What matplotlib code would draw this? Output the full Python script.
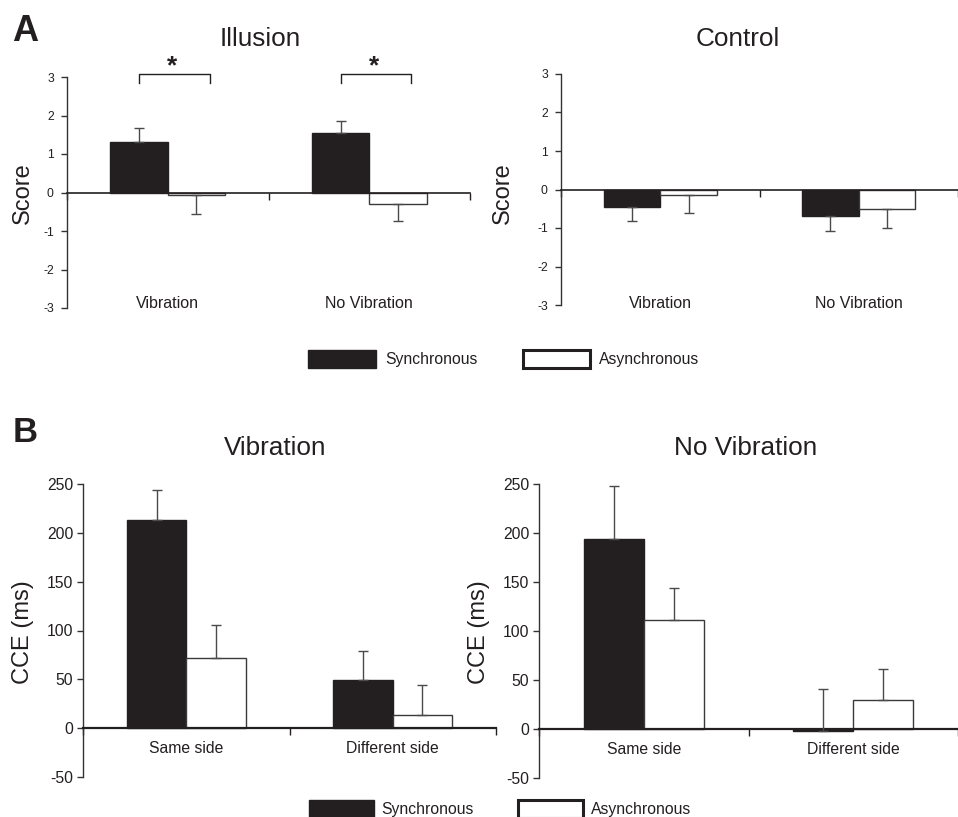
import matplotlib.pyplot as plt
from matplotlib.patches import Patch
from matplotlib.transforms import blended_transform_factory

# ---- data ----
a_cats = ["Vibration", "No Vibration"]
illusion_sync = [1.31, 1.54]
illusion_sync_err = [0.36, 0.31]
illusion_async = [-0.07, -0.31]
illusion_async_err = [0.50, 0.43]

control_sync = [-0.46, -0.69]
control_sync_err = [0.37, 0.38]
control_async = [-0.13, -0.50]
control_async_err = [0.49, 0.50]

b_cats = ["Same side", "Different side"]
vib_sync = [213.5, 49.2]
vib_sync_err = [30.0, 30.0]
vib_async = [71.7, 13.3]
vib_async_err = [33.5, 30.4]

novib_sync = [193.7, -2.0]
novib_sync_err = [54.3, 43.0]
novib_async = [111.7, 29.2]
novib_async_err = [32.3, 32.0]

series_names = ["Synchronous", "Asynchronous"]

INK = "#231f20"
EDGE = "#3a3a3a"
W, H = 958, 817
plt.rcParams["font.family"] = ["Liberation Sans", "DejaVu Sans"]
plt.rcParams["text.color"] = INK
plt.rcParams["axes.unicode_minus"] = False

fig = plt.figure(figsize=(W / 100, H / 100), dpi=100)


def px_axes(left, top, right, bottom):
    return fig.add_axes([left / W, 1 - bottom / H, (right - left) / W, (bottom - top) / H])


def fig_text(x, y, s, **kw):
    # x, y in pixels from top-left
    return fig.text(x / W, 1 - y / H, s, **kw)


def style_axes(ax, ylim, yticks, tick_fs, zero_lw, pad):
    ax.set_xlim(0, 2)
    ax.set_ylim(*ylim)
    ax.spines["top"].set_visible(False)
    ax.spines["right"].set_visible(False)
    ax.spines["bottom"].set_position(("data", 0))
    ax.spines["bottom"].set_linewidth(zero_lw)
    ax.spines["bottom"].set_color(INK)
    ax.spines["left"].set_linewidth(1)
    ax.spines["left"].set_color("#333333")
    ax.set_xticks([0, 1, 2])
    ax.set_xticklabels([])
    ax.tick_params(axis="x", direction="out", length=5, width=1, color=INK)
    ax.set_yticks(yticks)
    ax.tick_params(axis="y", direction="out", length=4, width=1, color="#333333",
                   labelsize=tick_fs, labelcolor=INK, pad=pad)
    ax.patch.set_alpha(0)


def draw_bars(ax, sync, sync_err, asyn, asyn_err, up_only=False, width=0.285):
    centres = [0.5 + i for i in range(len(sync))]
    xs = [c - width / 2 for c in centres]
    xa = [c + width / 2 for c in centres]
    ax.bar(xs, sync, width, color=INK, edgecolor=INK, linewidth=1, zorder=2)
    ax.bar(xa, asyn, width, color="white", edgecolor=EDGE, linewidth=1, zorder=2)
    for x, v, e in ((xs, sync, sync_err), (xa, asyn, asyn_err)):
        if up_only:
            lo = [0] * len(v)
            hi = e
        else:
            lo = [err if val < 0 else 0 for val, err in zip(v, e)]
            hi = [err if val >= 0 else 0 for val, err in zip(v, e)]
        ax.errorbar(x, v, yerr=[lo, hi], fmt="none", ecolor="#4a4a4a",
                    elinewidth=1, capsize=3.5, capthick=1, zorder=3)
    return centres, xs


# ---- panel A ----
axA1 = px_axes(67, 77, 470, 308)
axA2 = px_axes(561, 74, 958, 305)
for ax, sync, se, asyn, ae in (
        (axA1, illusion_sync, illusion_sync_err, illusion_async, illusion_async_err),
        (axA2, control_sync, control_sync_err, control_async, control_async_err)):
    style_axes(ax, (-3, 3), range(-3, 4), 8.7, 1.2, 5.5)
    centres, xs = draw_bars(ax, sync, se, asyn, ae)
    tr = blended_transform_factory(ax.transData, fig.transFigure)
    for c, lab in zip(centres, a_cats):
        ax.text(c, 1 - 308.5 / H, lab, ha="center", va="baseline", fontsize=11.5, transform=tr)

fig_text(260, 45.7, "Illusion", fontsize=18.8, ha="center", va="baseline")
fig_text(737.7, 45.7, "Control", fontsize=18.8, ha="center", va="baseline")
fig_text(22.5, 193.5, "Score", fontsize=17, rotation=90, ha="center", va="center")
fig_text(502.5, 193, "Score", fontsize=17, rotation=90, ha="center", va="center")

# significance brackets on the illusion panel
bx = [0.5 + i - 0.285 / 2 for i in range(len(illusion_sync))]
for x0 in bx:
    x1 = x0 + 0.35
    axA1.plot([x0, x0, x1, x1], [2.85, 3.08, 3.08, 2.85], color=INK, lw=1, clip_on=False)
    axA1.text((x0 + x1) / 2 - 0.01, 3.1, "*", ha="center", va="baseline",
              fontsize=19, fontweight="bold", clip_on=False)

# ---- panel B ----
axB1 = px_axes(83, 484, 496, 777)
axB2 = px_axes(539, 484, 958, 778)
for ax, sync, se, asyn, ae in (
        (axB1, vib_sync, vib_sync_err, vib_async, vib_async_err),
        (axB2, novib_sync, novib_sync_err, novib_async, novib_async_err)):
    style_axes(ax, (-50, 250), range(-50, 251, 50), 11.3, 1.6, 3)
    centres, xs = draw_bars(ax, sync, se, asyn, ae, up_only=True, width=0.287)
    for c, lab in zip(centres, b_cats):
        ax.annotate(lab, xy=(c, 0), xytext=(0, -18), textcoords="offset points",
                    ha="center", va="baseline", fontsize=11.3)

fig_text(275, 455, "Vibration", fontsize=18.8, ha="center", va="baseline")
fig_text(745.7, 455, "No Vibration", fontsize=18.8, ha="center", va="baseline")
fig_text(23.5, 632, "CCE (ms)", fontsize=17, rotation=90, ha="center", va="center")
fig_text(479, 632, "CCE (ms)", fontsize=17, rotation=90, ha="center", va="center")

fig_text(12, 41, "A", fontsize=26, fontweight="bold", ha="left", va="baseline")
fig_text(13, 442, "B", fontsize=25, fontweight="bold", ha="left", va="baseline")

# ---- legends ----
handles = [Patch(facecolor=INK, edgecolor=INK),
           Patch(facecolor="white", edgecolor=INK, linewidth=2.2)]
for cx, cy, hl, tp, cs in ((504, 359, 4.3, 0.57, 2.9), (500, 809, 4.15, 0.5, 2.8)):
    fig.legend(handles, series_names, loc="center", bbox_to_anchor=(cx / W, 1 - cy / H),
               ncol=2, frameon=False, fontsize=11.3, handlelength=hl, handleheight=1.45,
               handletextpad=tp, columnspacing=cs, borderpad=0, borderaxespad=0)

fig.savefig("out.png", dpi=100)
